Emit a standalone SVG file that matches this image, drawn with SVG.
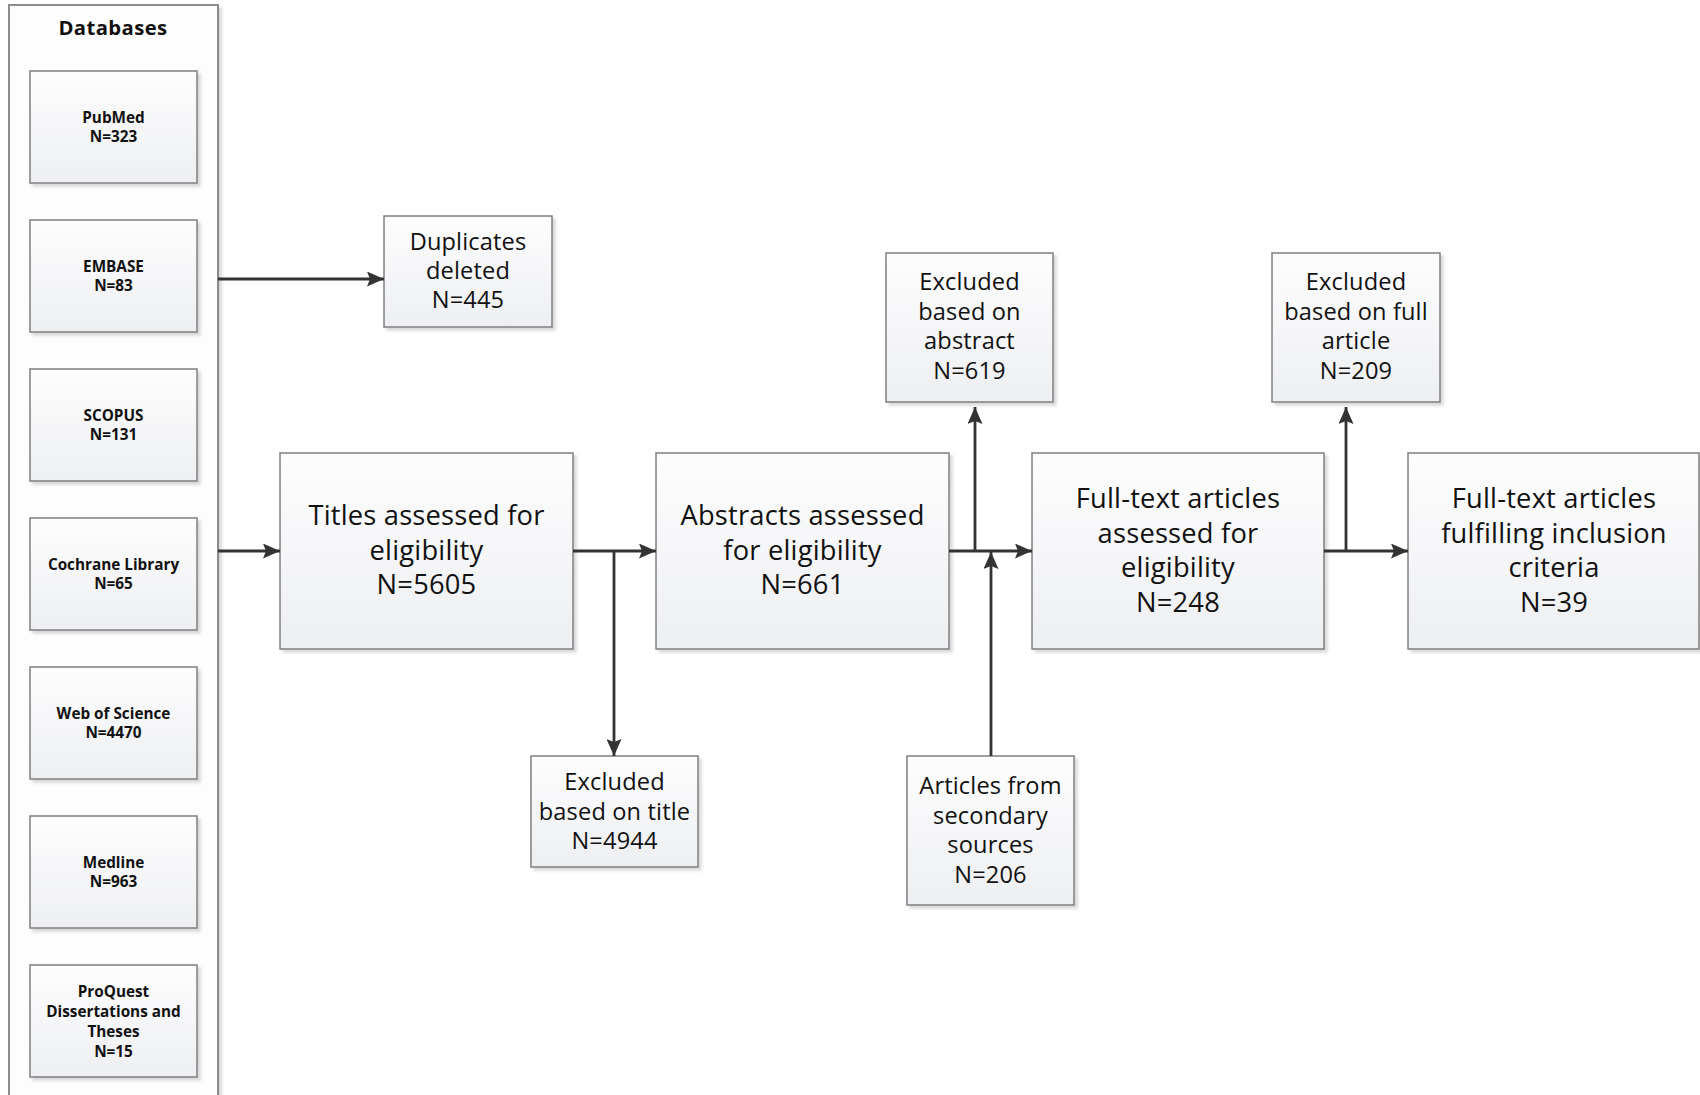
<svg xmlns="http://www.w3.org/2000/svg" width="1700" height="1095" viewBox="0 0 1700 1095">
<style>
.box{fill:url(#g);stroke:#7f7f7f;stroke-width:1.5;filter:url(#sh)}
.db{font-family:"Open Sans",Lato,"Liberation Sans",sans-serif;font-weight:bold;font-size:15.3px;fill:#111;text-anchor:middle}
.big{font-family:"Open Sans",Lato,"Liberation Sans",sans-serif;font-size:27.3px;letter-spacing:0.2px;fill:#111;text-anchor:middle}
.mid{font-family:"Open Sans",Lato,"Liberation Sans",sans-serif;font-size:23.6px;letter-spacing:0.15px;fill:#111;text-anchor:middle}
.ttl{font-family:"Open Sans",Lato,"Liberation Sans",sans-serif;font-weight:bold;font-size:20.3px;letter-spacing:0.4px;fill:#111;text-anchor:middle}
.c{fill:none;stroke:#333;stroke-width:2.8}
.a{marker-end:url(#ah)}
</style>
<defs>
<linearGradient id="g" x1="0" y1="0" x2="0" y2="1">
<stop offset="0" stop-color="#fdfdfd"/>
<stop offset="1" stop-color="#eeeff2"/>
</linearGradient>
<filter id="sh" x="-10%" y="-10%" width="125%" height="125%">
<feDropShadow dx="3" dy="3" stdDeviation="1.5" flood-color="#000" flood-opacity="0.15"/>
</filter>
<marker id="ah" markerUnits="userSpaceOnUse" markerWidth="17" markerHeight="15" viewBox="0 0 17 15" refX="17" refY="7.5" orient="auto">
<path d="M0,0 L17,7.5 L0,15 L3,7.5 z" fill="#333"/>
</marker>
</defs>
<rect width="1700" height="1095" fill="#fff"/>

<g id="databases">
<rect x="9" y="5" width="209" height="1100" fill="#fdfdfd" stroke="#8c8c8c" stroke-width="2" filter="url(#sh)"/>
<text class="ttl" x="113" y="35">Databases</text>
</g>
<g id="pubmed"><rect class="box" x="30" y="71" width="167" height="112"/>
<text class="db" x="113.5" y="123">PubMed</text><text class="db" x="113.5" y="142">N=323</text></g>
<g id="embase"><rect class="box" x="30" y="220" width="167" height="112"/>
<text class="db" x="113.5" y="272">EMBASE</text><text class="db" x="113.5" y="291">N=83</text></g>
<g id="scopus"><rect class="box" x="30" y="369" width="167" height="112"/>
<text class="db" x="113.5" y="421">SCOPUS</text><text class="db" x="113.5" y="440">N=131</text></g>
<g id="cochrane"><rect class="box" x="30" y="518" width="167" height="112"/>
<text class="db" x="113.5" y="570">Cochrane Library</text><text class="db" x="113.5" y="589">N=65</text></g>
<g id="wos"><rect class="box" x="30" y="667" width="167" height="112"/>
<text class="db" x="113.5" y="719">Web of Science</text><text class="db" x="113.5" y="738">N=4470</text></g>
<g id="medline"><rect class="box" x="30" y="816" width="167" height="112"/>
<text class="db" x="113.5" y="868">Medline</text><text class="db" x="113.5" y="887">N=963</text></g>
<g id="proquest"><rect class="box" x="30" y="965" width="167" height="112"/>
<text class="db" x="113.5" y="997">ProQuest</text><text class="db" x="113.5" y="1017">Dissertations and</text><text class="db" x="113.5" y="1037">Theses</text><text class="db" x="113.5" y="1057">N=15</text></g>

<g id="duplicates"><rect class="box" x="384" y="216" width="168" height="111"/>
<text class="mid" x="468" y="250">Duplicates</text><text class="mid" x="468" y="279">deleted</text><text class="mid" x="468" y="308">N=445</text></g>

<g id="titles"><rect class="box" x="280" y="453" width="293" height="196"/>
<text class="big" x="426.5" y="525">Titles assessed for</text><text class="big" x="426.5" y="559.5">eligibility</text><text class="big" x="426.5" y="594">N=5605</text></g>

<g id="abstracts"><rect class="box" x="656" y="453" width="293" height="196"/>
<text class="big" x="802.5" y="525">Abstracts assessed</text><text class="big" x="802.5" y="559.5">for eligibility</text><text class="big" x="802.5" y="594">N=661</text></g>

<g id="fulltext"><rect class="box" x="1032" y="453" width="292" height="196"/>
<text class="big" x="1178" y="508">Full-text articles</text><text class="big" x="1178" y="542.5">assessed for</text><text class="big" x="1178" y="577">eligibility</text><text class="big" x="1178" y="611.5">N=248</text></g>

<g id="included"><rect class="box" x="1408" y="453" width="291" height="196"/>
<text class="big" x="1554" y="508">Full-text articles</text><text class="big" x="1554" y="542.5">fulfilling inclusion</text><text class="big" x="1554" y="577">criteria</text><text class="big" x="1554" y="611.5">N=39</text></g>

<g id="excl-title"><rect class="box" x="531" y="756" width="167" height="111"/>
<text class="mid" x="614.5" y="790">Excluded</text><text class="mid" x="614.5" y="819.5">based on title</text><text class="mid" x="614.5" y="849">N=4944</text></g>

<g id="excl-abstract"><rect class="box" x="886" y="253" width="167" height="149"/>
<text class="mid" x="969.5" y="290">Excluded</text><text class="mid" x="969.5" y="319.5">based on</text><text class="mid" x="969.5" y="349">abstract</text><text class="mid" x="969.5" y="378.5">N=619</text></g>

<g id="excl-full"><rect class="box" x="1272" y="253" width="168" height="149"/>
<text class="mid" x="1356" y="290">Excluded</text><text class="mid" x="1356" y="319.5">based on full</text><text class="mid" x="1356" y="349">article</text><text class="mid" x="1356" y="378.5">N=209</text></g>

<g id="secondary"><rect class="box" x="907" y="756" width="167" height="149"/>
<text class="mid" x="990.5" y="794">Articles from</text><text class="mid" x="990.5" y="823.5">secondary</text><text class="mid" x="990.5" y="853">sources</text><text class="mid" x="990.5" y="882.5">N=206</text></g>

<g id="connectors">
<path class="c a" d="M218,279 H384"/>
<path class="c a" d="M218,551 H280"/>
<path class="c a" d="M573,551 H656"/>
<path class="c a" d="M614,551 V756"/>
<path class="c a" d="M949,551 H1032"/>
<path class="c a" d="M975,551 V407"/>
<path class="c a" d="M991,756 V552"/>
<path class="c a" d="M1324,551 H1408"/>
<path class="c a" d="M1346,551 V407"/>
</g>
</svg>
